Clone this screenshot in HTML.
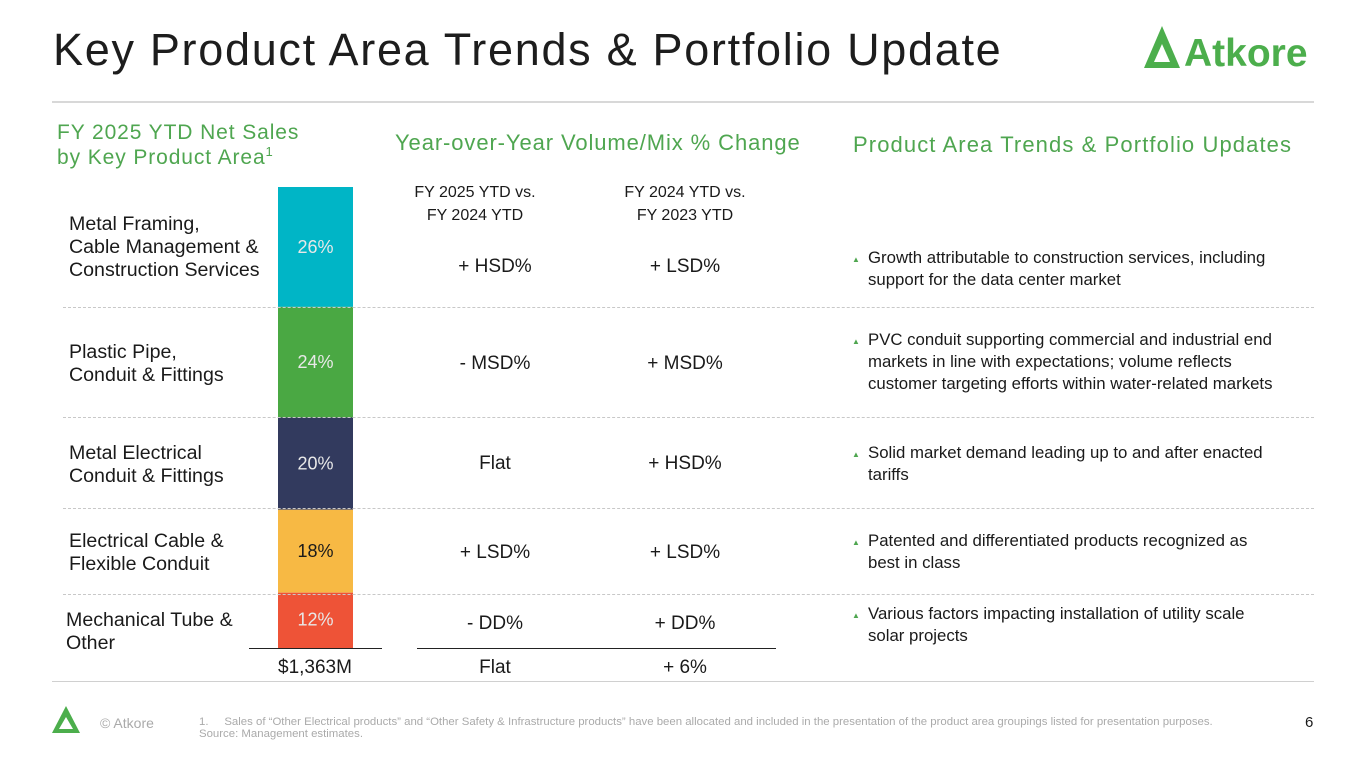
<!DOCTYPE html>
<html><head><meta charset="utf-8"><style>
body{margin:0;width:1365px;height:768px;background:#fff;font-family:"Liberation Sans",sans-serif;position:relative;overflow:hidden;color:#1a1a1a}
.a{position:absolute;white-space:nowrap}
.h{color:#4fa650;font-size:21px;letter-spacing:0.9px;line-height:24px}
.lbl{font-size:19.6px;line-height:23px}
.c{text-align:center;font-size:19px}
.b{font-size:16.8px;line-height:22px}
.tri{position:absolute;left:-16px;top:2px;color:#4fa650;font-size:8px}
.dash{position:absolute;left:63px;width:1251px;border-top:1px dashed #c8c8c8;height:0}
</style></head><body>
<div class="a" style="left:53px;top:24px;font-size:45px;letter-spacing:1.7px;color:#1d1d1d">Key Product Area Trends &amp; Portfolio Update</div>
<svg class="a" style="left:1140px;top:22px" width="190" height="50">
<polygon points="4,46 22,4 40,46" fill="#4cae4c"/><polygon points="14,40 22,22 30,40" fill="#fff"/>
<text x="44" y="44" font-family="Liberation Sans" font-weight="bold" font-size="39" fill="#4cae4c">Atkore</text></svg>
<div class="a" style="left:52px;top:101px;width:1262px;border-top:2px solid #d8d8d8"></div>
<div class="a h" style="left:57px;top:120px;line-height:25px">FY 2025 YTD Net Sales<br>by Key Product Area<sup style="font-size:13px;line-height:0">1</sup></div>
<div class="a h" style="left:395px;top:131px;font-size:22px;letter-spacing:0.9px">Year-over-Year Volume/Mix % Change</div>
<div class="a h" style="left:853px;top:133px;font-size:22px;letter-spacing:1.1px">Product Area Trends &amp; Portfolio Updates</div>
<div class="a c" style="left:400px;width:150px;top:181px;font-size:16px;line-height:23px">FY 2025 YTD vs.<br>FY 2024 YTD</div>
<div class="a c" style="left:610px;width:150px;top:181px;font-size:16px;line-height:23px">FY 2024 YTD vs.<br>FY 2023 YTD</div>
<svg id="bar" class="a" style="left:0;top:0" width="400" height="700"></svg>
<div class="a lbl" style="left:69px;top:213px">Metal Framing,<br>Cable Management &amp;<br>Construction Services</div>
<div class="a lbl" style="left:69px;top:341px">Plastic Pipe,<br>Conduit &amp; Fittings</div>
<div class="a lbl" style="left:69px;top:442px">Metal Electrical<br>Conduit &amp; Fittings</div>
<div class="a lbl" style="left:69px;top:530px">Electrical Cable &amp;<br>Flexible Conduit</div>
<div class="a lbl" style="left:66px;top:609px">Mechanical Tube &amp;<br>Other</div>
<div class="dash" style="top:307px"></div><div class="dash" style="top:417px"></div><div class="dash" style="top:508px"></div><div class="dash" style="top:594px"></div>
<div class="a c" style="left:420px;width:150px;top:256px">+ HSD%</div><div class="a c" style="left:610px;width:150px;top:256px">+ LSD%</div>
<div class="a c" style="left:420px;width:150px;top:353px">- MSD%</div><div class="a c" style="left:610px;width:150px;top:353px">+ MSD%</div>
<div class="a c" style="left:420px;width:150px;top:453px">Flat</div><div class="a c" style="left:610px;width:150px;top:453px">+ HSD%</div>
<div class="a c" style="left:420px;width:150px;top:542px">+ LSD%</div><div class="a c" style="left:610px;width:150px;top:542px">+ LSD%</div>
<div class="a c" style="left:420px;width:150px;top:613px">- DD%</div><div class="a c" style="left:610px;width:150px;top:613px">+ DD%</div>
<div class="a" style="left:249px;top:648px;width:133px;border-top:1px solid #222"></div>
<div class="a" style="left:417px;top:648px;width:359px;border-top:1px solid #222"></div>
<div class="a c" style="left:240px;width:150px;top:657px">$1,363M</div>
<div class="a c" style="left:420px;width:150px;top:657px">Flat</div><div class="a c" style="left:610px;width:150px;top:657px">+ 6%</div>
<div class="a b" style="left:868px;top:247px"><span class="tri">▲</span>Growth attributable to construction services, including<br>support for the data center market</div>
<div class="a b" style="left:868px;top:329px"><span class="tri">▲</span>PVC conduit supporting commercial and industrial end<br>markets in line with expectations; volume reflects<br>customer targeting efforts within water-related markets</div>
<div class="a b" style="left:868px;top:442px"><span class="tri">▲</span>Solid market demand leading up to and after enacted<br>tariffs</div>
<div class="a b" style="left:868px;top:530px"><span class="tri">▲</span>Patented and differentiated products recognized as<br>best in class</div>
<div class="a b" style="left:868px;top:603px"><span class="tri">▲</span>Various factors impacting installation of utility scale<br>solar projects</div>
<div class="a" style="left:52px;top:681px;width:1262px;border-top:1px solid #d0d0d0"></div>
<svg class="a" style="left:52px;top:706px" width="36" height="28"><polygon points="0,27 14,0 28,27" fill="#4cae4c"/><polygon points="7,23 14,11 21,23" fill="#fff"/></svg>
<div class="a" style="left:100px;top:715px;font-size:14px;color:#aaa">© Atkore</div>
<div class="a" style="left:199px;top:716px;font-size:11.4px;color:#aaa;line-height:12px">1.&nbsp;&nbsp;&nbsp;&nbsp;&nbsp;Sales of “Other Electrical products” and “Other Safety &amp; Infrastructure products” have been allocated and included in the presentation of the product area groupings listed for presentation purposes.<br>Source: Management estimates.</div>
<div class="a" style="left:1305px;top:714px;font-size:15px">6</div>
<script>
const categories=["Metal Framing","Plastic Pipe","Metal Conduit","Electrical Cable","Mechanical Tube"];
const shares=[26,24,20,18,12];
const colors=["#00b5c6","#4aa843","#323a5e","#f7b944","#ee5337"];
const svg=document.getElementById('bar');const NS="http://www.w3.org/2000/svg";
const top0=187,pxPer=461/100;
let y=top0;
shares.forEach((v,i)=>{const h=v*pxPer;
const r=document.createElementNS(NS,'rect');


r.setAttribute('x',278);r.setAttribute('y',y);r.setAttribute('width',75);r.setAttribute('height',h);r.setAttribute('fill',colors[i]);svg.appendChild(r);
const t=document.createElementNS(NS,'text');


const cy=i==shares.length-1?y+27:y+h/2;
t.setAttribute('x',315.5);t.setAttribute('y',cy+6);t.setAttribute('text-anchor','middle');t.setAttribute('font-family','Liberation Sans');t.setAttribute('font-size','18');t.setAttribute('fill',i==3?'#1a1a1a':'#e8e8e8');t.textContent=v+'%';svg.appendChild(t);
y+=h;});
</script>
</body></html>
